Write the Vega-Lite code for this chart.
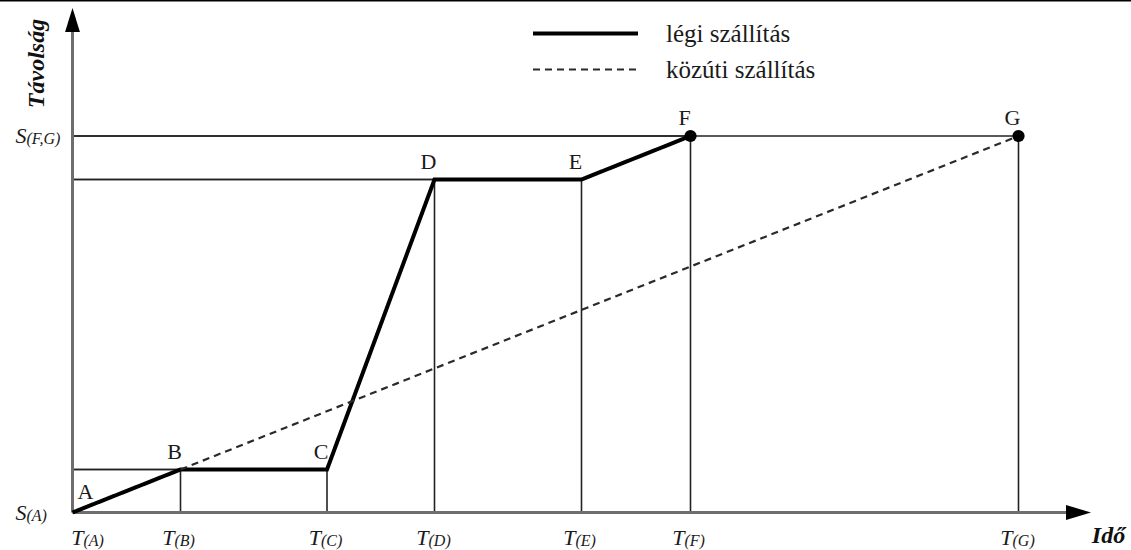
{
  "$schema": "https://vega.github.io/schema/vega-lite/v6.json",
  "width": 1131,
  "height": 550,
  "autosize": "none",
  "padding": 0,
  "background": "white",
  "config": {
    "font": "Liberation Serif",
    "view": {"stroke": null},
    "axis": {"domain": false, "ticks": false, "labels": false, "grid": false},
    "legend": {"labelFont": "Liberation Serif"}
  },
  "datasets": {
    "points": [
      {"pt": "A", "t": 0, "s": 0, "sub": "(A)"},
      {"pt": "B", "t": 10.8, "s": 4.3, "sub": "(B)"},
      {"pt": "C", "t": 25.45, "s": 4.3, "sub": "(C)"},
      {"pt": "D", "t": 36.2, "s": 33.3, "sub": "(D)"},
      {"pt": "E", "t": 50.9, "s": 33.3, "sub": "(E)"},
      {"pt": "F", "t": 61.8, "s": 37.65, "sub": "(F)"},
      {"pt": "G", "t": 94.6, "s": 37.65, "sub": "(G)"}
    ],
    "routes": [
      {"mode": "légi szállítás", "ord": 1, "t": 0, "s": 0},
      {"mode": "légi szállítás", "ord": 2, "t": 10.8, "s": 4.3},
      {"mode": "légi szállítás", "ord": 3, "t": 25.45, "s": 4.3},
      {"mode": "légi szállítás", "ord": 4, "t": 36.2, "s": 33.3},
      {"mode": "légi szállítás", "ord": 5, "t": 50.9, "s": 33.3},
      {"mode": "légi szállítás", "ord": 6, "t": 61.8, "s": 37.65},
      {"mode": "közúti szállítás", "ord": 1, "t": 10.8, "s": 4.3},
      {"mode": "közúti szállítás", "ord": 2, "t": 94.6, "s": 37.65}
    ],
    "levels": [
      {"s": 0, "sub": "(A)"},
      {"s": 37.65, "sub": "(F,G)"}
    ],
    "one": [{}]
  },
  "layer": [
    {
      "data": {"name": "one"},
      "mark": {"type": "rule", "stroke": "#000000", "strokeWidth": 3},
      "encoding": {
        "y": {"datum": 51.25, "type": "quantitative", "scale": {"domain": [-3.75, 51.25], "nice": false, "zero": false}}
      }
    },
    {
      "data": {"name": "points"},
      "mark": {"type": "rule", "stroke": "#222222", "strokeWidth": 1.6},
      "encoding": {
        "x": {"field": "t", "type": "quantitative", "scale": {"domain": [-7.25, 105.85], "nice": false, "zero": false}},
        "x2": {"datum": 0},
        "y": {"field": "s", "type": "quantitative", "scale": {"domain": [-3.75, 51.25], "nice": false, "zero": false}}
      }
    },
    {
      "data": {"name": "points"},
      "mark": {"type": "rule", "stroke": "#222222", "strokeWidth": 1.6},
      "encoding": {
        "x": {"field": "t", "type": "quantitative", "scale": {"domain": [-7.25, 105.85], "nice": false, "zero": false}},
        "y": {"field": "s", "type": "quantitative", "scale": {"domain": [-3.75, 51.25], "nice": false, "zero": false}},
        "y2": {"datum": 0}
      }
    },
    {
      "data": {"name": "one"},
      "mark": {"type": "rule", "stroke": "#6e6e6e", "strokeWidth": 3},
      "encoding": {
        "x": {"datum": 0, "type": "quantitative"},
        "x2": {"datum": 100.6},
        "y": {"datum": 0, "type": "quantitative"}
      }
    },
    {
      "data": {"name": "one"},
      "mark": {"type": "rule", "stroke": "#6e6e6e", "strokeWidth": 3},
      "encoding": {
        "x": {"datum": 0, "type": "quantitative"},
        "y": {"datum": 0, "type": "quantitative"},
        "y2": {"datum": 49.25}
      }
    },
    {
      "data": {"name": "one"},
      "mark": {"type": "point", "shape": "M0,-1L0.62,1L-0.62,1Z", "filled": true, "color": "#000000", "opacity": 1, "size": 576},
      "encoding": {
        "x": {"datum": 0, "type": "quantitative"},
        "y": {"datum": 49.25, "type": "quantitative"}
      }
    },
    {
      "data": {"name": "one"},
      "mark": {"type": "point", "shape": "M1,0L-1,0.6L-1,-0.6Z", "filled": true, "color": "#000000", "opacity": 1, "size": 625},
      "encoding": {
        "x": {"datum": 100.6, "type": "quantitative"},
        "y": {"datum": 0, "type": "quantitative"}
      }
    },
    {
      "data": {"name": "routes"},
      "mark": {"type": "line", "strokeCap": "butt", "strokeJoin": "miter"},
      "encoding": {
        "x": {
          "field": "t", "type": "quantitative",
          "scale": {"domain": [-7.25, 105.85], "nice": false, "zero": false},
          "axis": {"title": "Idő", "titleFont": "Liberation Serif", "titleFontStyle": "italic", "titleFontWeight": "bold", "titleFontSize": 24, "titleColor": "#111111", "titleX": 1108, "titleY": -8, "titleAlign": "center", "titleBaseline": "alphabetic", "titleAnchor": null}
        },
        "y": {
          "field": "s", "type": "quantitative",
          "scale": {"domain": [-3.75, 51.25], "nice": false, "zero": false},
          "axis": {"title": "Távolság", "titleFont": "Liberation Serif", "titleFontStyle": "italic", "titleFontWeight": "bold", "titleFontSize": 24, "titleColor": "#111111", "titleX": 36, "titleY": 63, "titleAngle": -90, "titleAlign": "center", "titleBaseline": "middle", "titleAnchor": null}
        },
        "order": {"field": "ord", "type": "quantitative"},
        "color": {
          "field": "mode", "type": "nominal",
          "scale": {"domain": ["légi szállítás", "közúti szállítás"], "range": ["#000000", "#2a2a2a"]},
          "legend": {"orient": "none", "legendX": 573, "legendY": 21, "title": null, "symbolType": "M-5,0H5", "symbolSize": 441, "labelFont": "Liberation Serif", "labelFontSize": 25, "labelColor": "#1a1a1a", "labelOffset": 68, "rowPadding": 10, "padding": 0, "symbolOpacity": 1}
        },
        "strokeDash": {
          "field": "mode", "type": "nominal",
          "scale": {"domain": ["légi szállítás", "közúti szállítás"], "range": [[1, 0], [7, 5]]},
          "legend": {"orient": "none", "legendX": 573, "legendY": 21, "title": null, "symbolType": "M-5,0H5", "symbolSize": 441, "labelFont": "Liberation Serif", "labelFontSize": 25, "labelColor": "#1a1a1a", "labelOffset": 68, "rowPadding": 10, "padding": 0, "symbolOpacity": 1}
        },
        "strokeWidth": {
          "field": "mode", "type": "nominal",
          "scale": {"type": "ordinal", "domain": ["légi szállítás", "közúti szállítás"], "range": [4, 2.2]},
          "legend": {"orient": "none", "legendX": 573, "legendY": 21, "title": null, "symbolType": "M-5,0H5", "symbolSize": 441, "labelFont": "Liberation Serif", "labelFontSize": 25, "labelColor": "#1a1a1a", "labelOffset": 68, "rowPadding": 10, "padding": 0, "symbolOpacity": 1}
        }
      }
    },
    {
      "data": {"name": "points"},
      "transform": [{"filter": "datum.pt === 'F' || datum.pt === 'G'"}],
      "mark": {"type": "point", "shape": "circle", "filled": true, "color": "#000000", "opacity": 1, "size": 150},
      "encoding": {
        "x": {"field": "t", "type": "quantitative"},
        "y": {"field": "s", "type": "quantitative"}
      }
    },
    {
      "data": {"name": "points"},
      "transform": [{"filter": "datum.pt !== 'A'"}],
      "mark": {"type": "text", "font": "Liberation Serif", "fontSize": 22, "color": "#1a1a1a", "align": "center", "baseline": "alphabetic", "dx": -6, "dy": -11},
      "encoding": {
        "x": {"field": "t", "type": "quantitative"},
        "y": {"field": "s", "type": "quantitative"},
        "text": {"field": "pt"}
      }
    },
    {
      "data": {"name": "points"},
      "transform": [{"filter": "datum.pt === 'A'"}],
      "mark": {"type": "text", "font": "Liberation Serif", "fontSize": 22, "color": "#1a1a1a", "align": "center", "baseline": "alphabetic", "dx": 13, "dy": -14},
      "encoding": {
        "x": {"field": "t", "type": "quantitative"},
        "y": {"field": "s", "type": "quantitative"},
        "text": {"field": "pt"}
      }
    },
    {
      "data": {"name": "points"},
      "transform": [{"filter": "datum.pt !== 'A'"}],
      "mark": {"type": "text", "text": "T", "font": "Liberation Serif", "fontStyle": "italic", "fontSize": 22, "color": "#1a1a1a", "align": "right", "baseline": "alphabetic", "dx": -6, "dy": 32},
      "encoding": {
        "x": {"field": "t", "type": "quantitative"},
        "y": {"datum": 0, "type": "quantitative"}
      }
    },
    {
      "data": {"name": "points"},
      "transform": [{"filter": "datum.pt !== 'A'"}],
      "mark": {"type": "text", "font": "Liberation Serif", "fontStyle": "italic", "fontSize": 16, "color": "#1a1a1a", "align": "left", "baseline": "alphabetic", "dx": -6, "dy": 33},
      "encoding": {
        "x": {"field": "t", "type": "quantitative"},
        "y": {"datum": 0, "type": "quantitative"},
        "text": {"field": "sub"}
      }
    },
    {
      "data": {"name": "points"},
      "transform": [{"filter": "datum.pt === 'A'"}],
      "mark": {"type": "text", "text": "T", "font": "Liberation Serif", "fontStyle": "italic", "fontSize": 22, "color": "#1a1a1a", "align": "right", "baseline": "alphabetic", "dx": 11, "dy": 32},
      "encoding": {
        "x": {"field": "t", "type": "quantitative"},
        "y": {"datum": 0, "type": "quantitative"}
      }
    },
    {
      "data": {"name": "points"},
      "transform": [{"filter": "datum.pt === 'A'"}],
      "mark": {"type": "text", "font": "Liberation Serif", "fontStyle": "italic", "fontSize": 16, "color": "#1a1a1a", "align": "left", "baseline": "alphabetic", "dx": 11, "dy": 33},
      "encoding": {
        "x": {"field": "t", "type": "quantitative"},
        "y": {"datum": 0, "type": "quantitative"},
        "text": {"field": "sub"}
      }
    },
    {
      "data": {"name": "levels"},
      "mark": {"type": "text", "text": "S", "font": "Liberation Serif", "fontStyle": "italic", "fontSize": 22, "color": "#1a1a1a", "align": "right", "baseline": "alphabetic", "dx": -46, "dy": 7},
      "encoding": {
        "x": {"datum": 0, "type": "quantitative"},
        "y": {"field": "s", "type": "quantitative"}
      }
    },
    {
      "data": {"name": "levels"},
      "mark": {"type": "text", "font": "Liberation Serif", "fontStyle": "italic", "fontSize": 16, "color": "#1a1a1a", "align": "left", "baseline": "alphabetic", "dx": -46, "dy": 8},
      "encoding": {
        "x": {"datum": 0, "type": "quantitative"},
        "y": {"field": "s", "type": "quantitative"},
        "text": {"field": "sub"}
      }
    }
  ]
}
